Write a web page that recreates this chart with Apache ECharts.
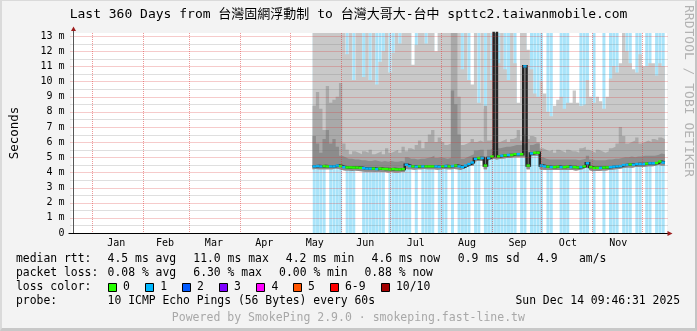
<!DOCTYPE html>
<html><head><meta charset="utf-8">
<script src="https://cdn.jsdelivr.net/npm/echarts@6/dist/echarts.min.js"></script>
<style>
html,body{margin:0;padding:0;background:#f3f3f3;}
#wrap{position:relative;width:697px;height:331px;overflow:hidden;}
#chart{position:absolute;left:0;top:0;width:697px;height:331px;}
#frame{position:absolute;left:0;top:0;width:697px;height:331px;box-sizing:border-box;border-top:1px solid #dadada;border-left:2px solid #dadada;border-right:2px solid #c4c4c4;border-bottom:3px solid #c8c8c8;pointer-events:none;}
</style></head><body>
<div id="wrap"><div id="chart"></div><div id="frame"></div></div>
<script>
// ---------------- data ----------------
const STEP_DAYS = 2;               // one column every 2 days, first column starts 2025-05-15
const Y_MAX = 13.2;                // ms (top of plot)
const monthStarts = ['2025-01-01','2025-02-01','2025-03-01','2025-04-01','2025-05-01','2025-06-01','2025-07-01','2025-08-01','2025-09-01','2025-10-01','2025-11-01','2025-12-01'];
const monthMids = ['2025-01-16T12:00','2025-02-15T00:00','2025-03-16T12:00','2025-04-16T00:00','2025-05-16T12:00','2025-06-16T00:00','2025-07-16T12:00','2025-08-16T12:00','2025-09-16T00:00','2025-10-16T12:00','2025-11-16T00:00'];
const monthNames = ['Jan','Feb','Mar','Apr','May','Jun','Jul','Aug','Sep','Oct','Nov','Dec'];
const yMajor = [1,2,3,4,5,6,7,8,9,10,11,12,13];
const yMinor = [0.5,1.5,2.5,3.5,4.5,5.5,6.5,7.5,8.5,9.5,10.5,11.5,12.5];

// smoke: top of light grey (max ping)
const smokeMax = [
13.2,13.2,13.2,13.2,13.2,13.2,13.2,13.2,13.2,13.2,
11.8,13.2,10.1,13.2,13.2,10.3,13.2,10.1,13.2,9.8,
11.3,12.0,13.2,10.6,11.9,13.2,12.5,13.2,13.2,13.2,
11.1,12.4,13.2,13.2,12.5,13.2,13.2,12.0,13.2,13.2,
13.2,13.2,13.2,13.2,13.2,10.8,13.2,10.1,9.8,13.2,
8.6,13.2,8.2,13.2,10.1,13.2,11.2,13.2,10.8,10.1,
13.2,11.2,8.6,13.2,13.2,12.1,10.8,9.2,9.0,10.0,
9.2,8.0,7.7,8.4,8.8,9.0,8.2,8.6,8.6,9.4,
8.6,8.4,8.5,10.1,9.0,8.6,9.0,8.7,8.2,9.0,
10.2,11.0,10.6,11.2,13.2,12.0,11.2,10.8,10.6,11.8,
11.0,11.0,11.2,11.2,10.4,11.2,11.0];
// smoke: top of medium grey
const smokeMid = [
8.4,9.3,8.2,6.8,9.7,8.6,8.8,9.0,9.9,5.9,
5.5,5.2,5.4,5.3,5.2,5.4,5.3,5.5,5.2,5.3,
5.4,5.2,5.6,5.3,5.4,5.5,5.3,5.7,5.4,5.6,
5.5,5.8,6.1,5.6,6.0,6.5,6.8,6.0,6.3,6.0,
5.8,5.9,13.2,13.2,9.0,5.8,5.9,6.0,6.2,6.0,
6.1,6.0,8.4,6.1,6.2,6.5,6.0,6.1,6.2,6.0,
6.2,6.3,6.8,6.1,6.5,6.2,6.4,6.3,6.0,5.6,
5.5,5.4,5.5,5.3,5.5,5.4,5.3,5.5,5.4,5.4,
5.3,5.6,5.7,5.5,5.4,5.3,5.5,5.4,5.3,5.4,
5.6,5.7,5.9,7.0,6.4,5.9,6.0,6.1,6.3,5.9,
6.0,6.1,6.0,6.2,6.1,6.3,6.2];
// smoke: top of dark grey
const smokeDark = [
6.4,5.9,5.3,6.2,6.8,5.9,6.2,5.7,5.1,5.0,
4.9,4.9,4.85,4.85,4.8,4.8,4.75,4.75,4.8,4.75,
4.7,4.75,4.7,4.75,4.7,4.7,4.75,4.7,5.0,4.9,
4.9,4.85,4.9,4.9,4.95,5.0,5.1,4.95,5.0,4.95,
4.9,4.95,9.4,8.5,6.5,4.9,5.0,5.1,5.2,5.45,
5.5,5.5,5.0,5.5,5.6,13.2,5.6,5.65,5.7,5.7,
5.75,5.8,5.8,5.8,5.9,5.0,5.8,5.9,5.9,5.0,
4.9,4.85,4.85,4.85,4.85,4.85,4.85,4.85,4.85,4.85,
4.8,4.85,4.9,5.1,4.85,4.8,4.8,4.8,4.8,4.85,
4.85,4.9,4.9,4.95,5.0,5.0,5.05,5.0,5.05,5.05,
5.1,5.1,5.1,5.1,5.15,5.25,5.2];
// smoke: bottom (min ping)
const smokeMin = [
4.2,4.22,4.2,4.2,4.2,4.2,4.2,4.25,4.22,4.15,
4.12,4.12,4.1,4.12,4.1,4.08,4.05,4.05,4.05,4.02,
4.05,4.03,4.02,4.0,4.02,4.0,4.0,4.02,4.25,4.2,
4.2,4.18,4.2,4.2,4.22,4.2,4.2,4.2,4.18,4.2,
4.22,4.2,4.2,4.22,4.2,4.15,4.25,4.35,4.45,4.7,
4.75,4.75,4.2,4.75,4.85,4.9,4.85,4.9,4.92,4.95,
4.95,5.0,5.0,5.0,5.0,4.2,5.05,5.1,5.1,4.2,
4.18,4.16,4.15,4.15,4.16,4.15,4.15,4.16,4.15,4.15,
4.13,4.15,4.2,4.3,4.15,4.1,4.1,4.1,4.12,4.13,
4.15,4.18,4.2,4.22,4.28,4.3,4.32,4.3,4.35,4.35,
4.35,4.38,4.4,4.4,4.42,4.5,4.45];
// median rtt (ms)
const median = [
4.4,4.42,4.4,4.42,4.4,4.4,4.4,4.45,4.42,4.35,
4.33,4.33,4.32,4.32,4.3,4.28,4.25,4.25,4.25,4.22,
4.25,4.23,4.22,4.2,4.22,4.2,4.2,4.22,4.5,4.42,
4.4,4.38,4.4,4.4,4.4,4.4,4.4,4.4,4.38,4.4,
4.42,4.4,4.42,4.45,4.4,4.35,4.45,4.55,4.65,4.9,
4.95,4.95,4.45,4.95,5.05,13.6,5.05,5.1,5.12,5.15,
5.15,5.2,5.2,5.2,11.0,4.45,5.25,5.3,5.3,4.45,
4.4,4.38,4.35,4.35,4.38,4.35,4.35,4.38,4.35,4.35,
4.33,4.35,4.4,4.6,4.35,4.3,4.3,4.3,4.32,4.33,
4.35,4.38,4.4,4.42,4.48,4.5,4.52,4.5,4.55,4.55,
4.55,4.58,4.6,4.6,4.62,4.72,4.65];
// loss colour index of the median (0 = no loss, 1 = 1/10)
const lossLevel = [
1,1,1,0,0,1,1,1,0,1,
0,0,0,0,0,1,1,1,0,1,
0,0,0,0,0,0,0,0,1,1,
0,1,0,1,0,0,0,1,1,0,
1,0,1,0,1,1,1,1,1,1,
0,1,0,1,0,1,0,1,0,1,
0,0,1,0,1,0,1,0,0,1,
1,0,1,0,0,1,0,0,1,0,
0,1,0,1,0,0,0,1,0,0,
1,1,1,1,1,1,0,1,1,1,
1,0,1,1,0,0,1];
// loss background strips (1 = some loss in column)
const lossBg = [
1,1,1,1,0,1,1,1,1,0,
1,1,1,0,0,1,1,1,1,1,
1,1,0,1,1,1,1,1,1,1,
0,1,0,1,1,1,1,0,1,1,
1,0,1,0,1,1,1,1,0,1,
1,0,1,1,1,1,1,1,1,1,
1,1,0,1,1,0,1,1,1,1,
0,1,1,0,0,1,1,1,0,0,
0,1,1,1,0,1,0,0,1,0,
1,1,1,0,1,1,1,0,1,1,
0,1,1,0,1,1,1];

const titleText = 'Last 360 Days from 台灣固網浮動制 to 台灣大哥大-台中 spttc2.taiwanmobile.com';
const rttStats = ['4.5 ms avg','11.0 ms max','4.2 ms min','4.6 ms now','0.9 ms sd','4.9','am/s'];
const lossStats = ['0.08 % avg','6.30 % max','0.00 % min','0.88 % now'];
const lossColors = ['#26ff00','#00b8ff','#0059ff','#7e00ff','#ff00ff','#ff5500','#ff0000','#a10000'];
const lossColorLabels = ['0','1','2','3','4','5','6-9','10/10'];
const probeText = '10 ICMP Echo Pings (56 Bytes) every 60s';
const dateText = 'Sun Dec 14 09:46:31 2025';
const poweredText = 'Powered by SmokePing 2.9.0 · smokeping.fast-line.tw';

// ---------------- build ----------------
const DAY = 86400000;
const xMin = new Date(2024, 11, 20, 10, 0, 0).getTime();
const xMax = new Date(2025, 11, 15, 10, 0, 0).getTime();
const ts = s => new Date(s).getTime();
const N = median.length;
const starts = [];
for (let i = 0; i <= N; i++) starts.push(new Date(2025, 4, 15 + i * STEP_DAYS).getTime());
const centers = starts.slice(0, N).map(t => t + STEP_DAYS * DAY / 2);
const ext = a => a.concat([a[a.length - 1]]);
const stepData = a => ext(a).map((v, i) => [starts[i], v]);

function band(id, lower, upper, color, z) {
  const diff = upper.map((u, i) => Math.max(0, u - lower[i]));
  return [
    {type:'line', stack:id, step:'end', data:stepData(lower), symbol:'none', silent:true, z:z,
     lineStyle:{width:0, opacity:0}},
    {type:'line', stack:id, step:'end', data:stepData(diff), symbol:'none', silent:true, z:z,
     lineStyle:{width:0, opacity:0}, areaStyle:{color:color, opacity:1}}
  ];
}

const MONO = '"DejaVu Sans Mono", "Noto Sans CJK TC", monospace';

const series = [
  {type:'bar', z:1, barWidth:3.0, silent:true, itemStyle:{color:'#a9e4fa'},
   data: centers.map((t, i) => [t, lossBg[i] ? Y_MAX : '-'])},
  ...band('light', smokeMin, smokeMax, '#c9c9c9', 2),
  ...band('mid', smokeMin, smokeMid, '#a9a9a9', 3),
  ...band('dark', smokeMin, smokeDark, '#8c8c8c', 4),
  {type:'line', z:5, step:'end', symbol:'none', silent:true, data: stepData(median),
   lineStyle:{color:'#262626', width:2.5, cap:'butt', join:'miter'}},
  {type:'scatter', z:6, symbol:'rect', symbolSize:[3.4, 2.4], silent:true,
   data: centers.map((t, i) => [t, median[i], lossLevel[i]]),
   itemStyle:{color: p => lossColors[p.value[2]], opacity:1}}
];

const chart = echarts.init(document.getElementById('chart'), null, {renderer:'canvas'});
const option = {
  animation:false,
  backgroundColor:'#f3f3f3',
  grid:{left:67, top:33, width:600, height:200, show:true, backgroundColor:'#ffffff', borderWidth:0, containLabel:false},
  xAxis:[
    {type:'time', min:xMin, max:xMax,
     axisLine:{show:false}, axisTick:{show:false}, splitLine:{show:false}, axisLabel:{show:false}},
    {type:'value', min:xMin, max:xMax, position:'bottom', gridIndex:0,
     axisLine:{show:false}, axisTick:{show:false}, splitLine:{show:false},
     axisLabel:{customValues: monthMids.map(ts), formatter: v => monthNames[new Date(v).getMonth()],
       fontFamily:MONO, fontSize:10, color:'#000', margin:5}}
  ],
  yAxis:{type:'value', min:0, max:Y_MAX, interval:1,
    axisLine:{show:false}, axisTick:{show:false}, splitLine:{show:false},
    axisLabel:{fontFamily:MONO, fontSize:10, color:'#000', margin:7, showMaxLabel:false,
      formatter: v => v === 0 ? '0' : (Math.abs(v - Math.round(v)) < 1e-9 ? Math.round(v) + ' m' : '')},
    name:'Seconds', nameLocation:'middle', nameGap:51,
    nameTextStyle:{fontFamily:MONO, fontSize:12.5, color:'#000'}},
  series: series
};
chart.setOption(option);

// ---------------- grid, axes, texts ----------------
const px = (x, y) => chart.convertToPixel({gridIndex:0}, [x, y]);
const p0 = px(xMin, 0), pT = px(xMin, Y_MAX), pE = px(xMax, 0);
const crisp = v => Math.round(v) + 0.5;
const ax = crisp(p0[0]), ay = crisp(p0[1]), topY = Math.round(pT[1]);
const els = [];
const GZ = 50;
const RED = 'rgba(222,50,50,0.5)', GREY = 'rgba(110,110,110,0.45)';
monthStarts.forEach(d => {
  const x = crisp(px(ts(d), 0)[0]);
  els.push({type:'line', z:GZ, silent:true, shape:{x1:x, y1:topY, x2:x, y2:ay - 0.5},
    style:{stroke:RED, lineWidth:1, lineDash:[1,1]}});
});
yMinor.forEach(v => {
  const y = crisp(px(xMin, v)[1]);
  els.push({type:'line', z:GZ, silent:true, shape:{x1:ax - 3, y1:y, x2:pE[0] + 2, y2:y},
    style:{stroke:GREY, lineWidth:1, lineDash:[1,1]}});
});
yMajor.forEach(v => {
  const y = crisp(px(xMin, v)[1]);
  els.push({type:'line', z:GZ, silent:true, shape:{x1:ax - 3, y1:y, x2:pE[0] + 2, y2:y},
    style:{stroke:RED, lineWidth:1, lineDash:[1,1]}});
});

const txt = (text, x, y, o) => els.push(Object.assign({type:'text', x:x, y:y, z:GZ, silent:true,
  style:Object.assign({text:text, font:'11.4px ' + MONO, fill:'#000', align:'left', verticalAlign:'middle'}, o || {})}));

// axes
els.push({type:'line', z:GZ + 1, silent:true, shape:{x1:ax, y1:ay, x2:ax, y2:topY - 2}, style:{stroke:'#555', lineWidth:1}});
els.push({type:'line', z:GZ + 1, silent:true, shape:{x1:ax - 5, y1:ay, x2:pE[0] + 3, y2:ay}, style:{stroke:'#000', lineWidth:1}});
els.push({type:'polygon', z:GZ + 1, silent:true, shape:{points:[[ax, topY - 6.5], [ax - 2.5, topY - 2], [ax + 2.5, topY - 2]]}, style:{fill:'#9c1c1c'}});
els.push({type:'polygon', z:GZ + 1, silent:true, shape:{points:[[pE[0] + 7, ay], [pE[0] + 2, ay - 2.5], [pE[0] + 2, ay + 2.5]]}, style:{fill:'#9c1c1c'}});

// title and side texts
txt(titleText, 348.5, 15, {font:'13px ' + MONO, align:'center'});
els.push({type:'text', x:688.5, y:5, z:GZ, rotation:-Math.PI / 2, silent:true,
  style:{text:'RRDTOOL / TOBI OETIKER', font:'13px ' + MONO, fill:'#b2b2b2', align:'left', verticalAlign:'middle'}});

// legend rows
const r1 = 259.3, r2 = 273.3, r3 = 287.3, r4 = 301, r5 = 318.3;
txt('median rtt:', 16, r1);
[107.6, 193.3, 285.8, 371.6, 457.8, 537, 579].forEach((x, i) => txt(rttStats[i], x, r1));
txt('packet loss:', 16, r2);
[107.6, 193.3, 279.1, 364.4].forEach((x, i) => txt(lossStats[i], x, r2));
txt('loss color:', 16, r3);
[108, 145.3, 182, 219, 256.4, 293, 330, 381].forEach((x, i) => {
  els.push({type:'rect', z:GZ, silent:true, shape:{x:Math.round(x) + 0.5, y:283.5, width:8, height:8},
    style:{fill:lossColors[i], stroke:'#000', lineWidth:1}});
  txt(lossColorLabels[i], x + 15, r3);
});
txt('probe:', 16, r4);
txt(probeText, 107.6, r4);
txt(dateText, 680, r4, {align:'right'});
txt(poweredText, 348.4, r5, {fill:'#a8a8a8', align:'center', font:'11.5px ' + MONO});

chart.setOption({graphic:{elements: els}});
</script>
</body></html>
